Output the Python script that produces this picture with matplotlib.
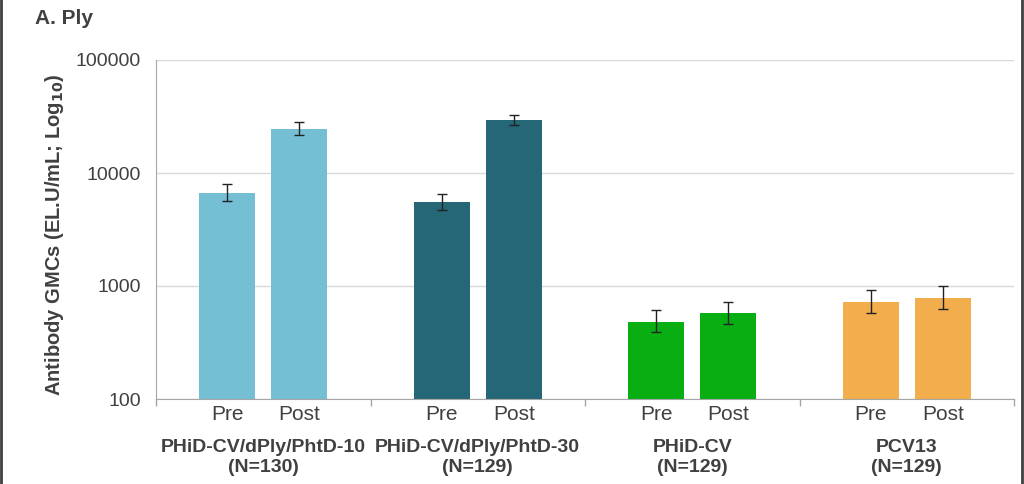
import matplotlib
matplotlib.use("Agg")
import matplotlib.pyplot as plt
from matplotlib.lines import Line2D
import numpy as np

plt.rcParams['font.family'] = ['Liberation Sans', 'DejaVu Sans']

groups = ["PHiD-CV/dPly/PhtD-10\n(N=130)", "PHiD-CV/dPly/PhtD-30\n(N=129)",
          "PHiD-CV\n(N=129)", "PCV13\n(N=129)"]
timepoints = ["Pre", "Post"]
pre_gmc = [6600, 5570, 483, 722]
pre_low = [5630, 4710, 389, 577]
pre_high = [8000, 6560, 617, 916]
post_gmc = [24500, 29600, 573, 778]
post_low = [21700, 26600, 458, 622]
post_high = [28100, 32800, 726, 994]
colors = ["#75BFD4", "#256677", "#08AE12", "#F2AD4C"]

text_color = "#404040"
fig = plt.figure(figsize=(10.24, 4.84), dpi=100)
ax = fig.add_axes([156/1024, 85/484, 858/1024, 339/484])

offset = 0.168
bw = 0.261
x = np.arange(len(groups))
xpre = x - offset
xpost = x + offset

ax.bar(xpre, pre_gmc, width=bw, color=colors, zorder=2)
ax.bar(xpost, post_gmc, width=bw, color=colors, zorder=2)

pre_err = [np.array(pre_gmc) - np.array(pre_low), np.array(pre_high) - np.array(pre_gmc)]
post_err = [np.array(post_gmc) - np.array(post_low), np.array(post_high) - np.array(post_gmc)]
ax.errorbar(xpre, pre_gmc, yerr=pre_err, fmt='none', ecolor='#222222', elinewidth=1,
            capsize=3.5, capthick=1, zorder=3)
ax.errorbar(xpost, post_gmc, yerr=post_err, fmt='none', ecolor='#222222', elinewidth=1,
            capsize=3.5, capthick=1, zorder=3)

ax.set_yscale('log')
ax.set_ylim(100, 100000)
ax.set_xlim(-0.5, len(groups) - 0.5)
ax.set_yticks([100, 1000, 10000, 100000])
ax.set_yticklabels(["100", "1000", "10000", "100000"])
ax.yaxis.set_minor_locator(matplotlib.ticker.NullLocator())
ax.tick_params(axis='y', length=0, labelsize=14, labelcolor=text_color, pad=11)
ax.grid(axis='y', color='#d9d9d9', linewidth=1, zorder=0)

tick_pos = np.concatenate([xpre, xpost])
tick_lab = [timepoints[0]] * len(groups) + [timepoints[1]] * len(groups)
ax.set_xticks(tick_pos)
ax.set_xticklabels(tick_lab)
ax.tick_params(axis='x', which='major', length=0, labelsize=15, labelcolor=text_color, pad=4.5)
ax.set_xticks(np.arange(len(groups) + 1) - 0.5, minor=True)
ax.tick_params(axis='x', which='minor', length=5, color='#a6a6a6', width=1)

for s in ['top', 'right']:
    ax.spines[s].set_visible(False)
ax.spines['left'].set_color('#a6a6a6')
ax.spines['bottom'].set_color('#a6a6a6')

trans = matplotlib.transforms.blended_transform_factory(ax.transData, ax.transAxes)
for i, g in enumerate(groups):
    ax.text(i, -0.117, g, transform=trans, ha='center', va='top', fontsize=14,
            fontweight='bold', color=text_color, linespacing=1.28)

ax.set_ylabel("Antibody GMCs (EL.U/mL; Log$_{\\mathbf{10}}$)", fontsize=14.5,
              fontweight='bold', color=text_color)
ax.yaxis.set_label_coords(-0.105, 0.485)

fig.text(35/1024, 1 - 19/484, "A. Ply", fontsize=15, fontweight='bold',
         color=text_color, ha='left', va='center')

fig.add_artist(Line2D([1/1024, 1/1024], [0, 1], transform=fig.transFigure,
                      color='#404040', linewidth=2))
fig.add_artist(Line2D([1022/1024, 1022/1024], [0, 1], transform=fig.transFigure,
                      color='#404040', linewidth=2))

fig.savefig("out.png", dpi=100)
